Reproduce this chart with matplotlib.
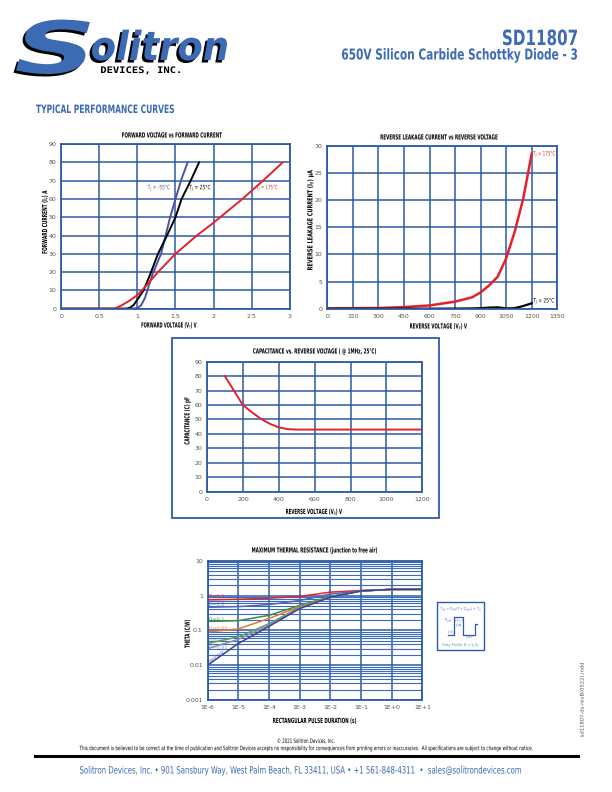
import numpy as np
import matplotlib.pyplot as plt
from matplotlib.patches import Rectangle, PathPatch
from matplotlib.textpath import TextPath
from matplotlib.font_manager import FontProperties
from matplotlib.transforms import Affine2D

BLUE = '#3c6ab3'
GRID = '#2d5ba8'
RED = '#e3212b'
SLATE = '#4b52a6'
GRAY = '#555555'

# forward voltage vs forward current
vf_m55 = [0, 0.9, 1.0, 1.05, 1.1, 1.13, 1.2, 1.31, 1.43, 1.5, 1.58, 1.66]
if_m55 = [0, 0, 0.3, 2, 6, 10, 19, 30, 50, 60, 71, 80]
vf_25 = [0, 0.85, 0.9, 0.95, 1.0, 1.08, 1.17, 1.27, 1.4, 1.5, 1.58, 1.7, 1.81]
if_25 = [0, 0, 0.5, 2, 5, 10, 19, 30, 41, 50, 60, 70, 80]
vf_175 = [0, 0.7, 0.8, 0.9, 1.0, 1.06, 1.27, 1.5, 1.78, 2.0, 2.38, 2.65, 2.91]
if_175 = [0, 0, 2, 4.5, 7.5, 10, 20, 30, 40, 47, 60, 70, 80]

# reverse leakage
vr = [0, 150, 300, 450, 600, 750, 850, 900, 950, 1000, 1050, 1100, 1150, 1200]
ir_175 = [0.05, 0.08, 0.12, 0.3, 0.6, 1.3, 2.1, 3.0, 4.3, 5.9, 9.3, 14.2, 20.3, 28.6]
ir_25 = [0, 0, 0, 0, 0, 0.02, 0.05, 0.1, 0.2, 0.25, 0.05, 0.1, 0.5, 1.0]

# capacitance
vc = [100, 130, 150, 200, 250, 300, 350, 400, 450, 500, 600, 800, 1000, 1200]
cap = [80, 74, 70, 60, 55, 50.5, 47, 44.5, 43.3, 43, 43, 43, 43, 43]

# thermal resistance
tp = [1e-6, 1e-5, 1e-4, 1e-3, 1e-2, 1e-1, 1e0, 1e1]
z_d05 = [0.75, 0.78, 0.84, 0.94, 1.25, 1.4, 1.5, 1.5]
z_d02 = [0.46, 0.48, 0.55, 0.72, 1.1, 1.38, 1.5, 1.5]
z_d01 = [0.18, 0.19, 0.27, 0.52, 0.94, 1.35, 1.5, 1.5]
z_d005 = [0.09, 0.11, 0.22, 0.48, 0.92, 1.35, 1.5, 1.5]
z_d002 = [0.042, 0.065, 0.155, 0.46, 0.9, 1.35, 1.5, 1.5]
z_d001 = [0.03, 0.055, 0.14, 0.44, 0.9, 1.35, 1.5, 1.5]
z_single = [0.01, 0.042, 0.13, 0.42, 0.9, 1.35, 1.5, 1.5]

W, H = 612, 792
DPI = 100
fig = plt.figure(figsize=(6.12, 7.92), dpi=DPI)


def px_axes(x0, y0, x1, y1):
    return fig.add_axes([x0 / W, 1 - y1 / H, (x1 - x0) / W, (y1 - y0) / H])


def ctext(x, y, s, size, width=None, sx=0.8, ha='left', va='baseline', rot=0, color='black',
          weight='bold', family='DejaVu Sans', fstyle='normal', z=5):
    # condensed text drawn as a path, placed in pixels from the top-left corner
    fp = FontProperties(family=family, weight=weight, style=fstyle)
    path = TextPath((0, 0), s, size=size, prop=fp)
    bb = path.get_extents()
    if width is not None:
        sx = width / bb.width
    dx = {'left': -bb.x0, 'center': -(bb.x0 + bb.x1) / 2, 'right': -bb.x1}[ha]
    dy = {'baseline': 0, 'center': -(bb.y0 + bb.y1) / 2, 'top': -bb.y1, 'bottom': -bb.y0}[va]
    tr = (Affine2D().translate(dx, dy).scale(sx, 1).rotate_deg(rot).translate(x, H - y)
          .scale(1 / DPI) + fig.dpi_scale_trans)
    fig.add_artist(PathPatch(path, transform=tr, facecolor=color, lw=0, zorder=z))


def dtext(ax, xd, yd, s, size, **kw):
    xp, yp = ax.transData.transform((xd, yd))
    ctext(xp, H - yp, s, size, **kw)


def style(ax):
    ax.grid(True, color=GRID, lw=1.1)
    for sp in ax.spines.values():
        sp.set_color(GRID)
        sp.set_linewidth(1.3)
    ax.tick_params(length=0, labelsize=4.5, labelcolor=GRAY, pad=3.5)
    ax.set_axisbelow(True)


# header / logo
for off, col in [((-2.5, 2.5), 'black'), ((0, 0), BLUE)]:
    ctext(16 + off[0], 73 + off[1], 'S', 72, width=74, color=col, fstyle='italic', z=4)
    ctext(92 + off[0], 60 + off[1], 'olitron', 40, width=135, color=col, fstyle='italic', z=4)
ctext(101, 73, 'DEVICES, INC.', 9, width=79, family='DejaVu Sans Mono')
ctext(577, 45, 'SD11807', 21, width=74, ha='right', color=BLUE)
ctext(577, 59.5, '650V Silicon Carbide Schottky Diode - 3', 15, width=235, ha='right', color=BLUE)
ctext(36, 113, 'TYPICAL PERFORMANCE CURVES', 11.5, width=138, color=BLUE)

# chart 1
ax1 = px_axes(61.3, 144, 289.7, 308.7)
ax1.plot(vf_m55, if_m55, color=SLATE, lw=1.4)
ax1.plot(vf_25, if_25, color='black', lw=1.4)
ax1.plot(vf_175, if_175, color=RED, lw=1.4)
ax1.set_xlim(0, 3)
ax1.set_ylim(0, 90)
ax1.set_xticks([0, 0.5, 1, 1.5, 2, 2.5, 3])
ax1.set_xticklabels(['0', '0.5', '1', '1.5', '2', '2.5', '3'])
ax1.set_yticks(range(0, 91, 10))
style(ax1)
ctext(172, 137.5, 'FORWARD VOLTAGE vs FORWARD CURRENT', 7, width=100, ha='center')
ctext(169, 327.5, 'FORWARD VOLTAGE (V$_F$) V', 7, width=55, ha='center')
ctext(45, 222, 'FORWARD CURRENT (I$_F$) A', 7, width=63, ha='center', va='center', rot=90)
dtext(ax1, 1.28, 66, 'T$_J$ = -55°C', 6, width=22, ha='center', va='center', color=SLATE, weight='normal')
dtext(ax1, 1.82, 66, 'T$_J$ = 25°C', 6, width=21, ha='center', va='center', weight='normal')
dtext(ax1, 2.7, 66, 'T$_J$ = 175°C', 6, width=21, ha='center', va='center', color=RED, weight='normal')

# chart 2
ax2 = px_axes(327.3, 146, 557.3, 308.7)
ax2.plot(vr, ir_175, color=RED, lw=1.8)
ax2.plot(vr, ir_25, color='black', lw=1.6)
ax2.set_xlim(0, 1350)
ax2.set_ylim(0, 30)
ax2.set_xticks(range(0, 1351, 150))
ax2.set_yticks(range(0, 31, 5))
style(ax2)
ctext(439, 139.5, 'REVERSE LEAKAGE CURRENT vs REVERSE VOLTAGE', 7, width=117, ha='center')
ctext(438.5, 328.5, 'REVERSE VOLTAGE (V$_R$) V', 7, width=57, ha='center')
ctext(310.5, 220, 'REVERSE LEAKAGE CURRENT (I$_R$) µA', 7, width=100, ha='center', va='center', rot=90)
dtext(ax2, 1208, 28.5, 'T$_J$ = 175°C', 6, width=22, va='center', color=RED, weight='normal')
dtext(ax2, 1208, 1.4, 'T$_J$ = 25°C', 6, width=21, va='center', weight='normal')

# chart 3
fig.patches.append(Rectangle((171.7 / W, 1 - 518 / H), (438.7 - 171.7) / W, (518 - 337.7) / H,
                             transform=fig.transFigure, fill=False, edgecolor=GRID, lw=1.3))
ax3 = px_axes(207, 361.7, 422.3, 491.7)
ax3.plot(vc, cap, color=RED, lw=1.4)
ax3.set_xlim(0, 1200)
ax3.set_ylim(0, 90)
ax3.set_xticks(range(0, 1201, 200))
ax3.set_yticks(range(0, 91, 10))
style(ax3)
ctext(314.5, 353.5, 'CAPACITANCE vs. REVERSE VOLTAGE ( @ 1MHz, 25°C)', 7, width=123, ha='center')
ctext(314, 514, 'REVERSE VOLTAGE (V$_R$) V', 7, width=56, ha='center')
ctext(187.5, 421, 'CAPACITANCE (C) pF', 7, width=47, ha='center', va='center', rot=90)

# chart 4
ax4 = px_axes(207.7, 560.7, 422.3, 700)
ax4.set_xscale('log')
ax4.set_yscale('log')
ax4.set_xlim(1e-6, 1e1)
ax4.set_ylim(1e-3, 1e1)
curves = [(z_d05, RED, 'D=0.5', 596), (z_d02, '#5066b4', 'D=0.2', 604), (z_d01, '#3f8a45', 'D=0.1', 619),
          (z_d005, '#e07b39', 'D=0.05', 628), (z_d002, '#5ca05c', 'D=0.02', 640),
          (z_d001, '#8c8ca8', 'D=0.01', 647), (z_single, '#3a3f9a', 'SINGLE PULSE', None)]
for z, c, lab, ly in curves:
    ax4.plot(tp, z, color=c, lw=1.1)
    if ly is not None:
        ctext(209, ly, lab, 4, width=4.2 * len(lab) / 1.4, va='center', color=c, weight='normal')
ctext(216, 657, 'SINGLE PULSE', 4, width=18, ha='center', va='center', rot=35, color='#3a3f9a',
      weight='normal')
ax4.set_xticks(tp)
ax4.set_xticklabels(['1E-6', '1E-5', '1E-4', '1E-3', '1E-2', '1E-1', '1E+0', '1E+1'])
ax4.set_yticks([1e-3, 1e-2, 1e-1, 1, 10])
ax4.set_yticklabels(['0.001', '0.01', '0.1', '1', '10'])
ax4.set_yticks([m * 10.0 ** e for e in range(-3, 1) for m in range(2, 10)], minor=True)
ax4.set_xticks([], minor=True)
ax4.grid(True, which='minor', axis='y', color='#3a6cc0', lw=0.8)
style(ax4)
ax4.tick_params(which='minor', length=0)
ctext(314.5, 552.5, 'MAXIMUM THERMAL RESISTANCE (junction to free air)', 7, width=125, ha='center')
ctext(314.5, 723, 'RECTANGULAR PULSE DURATION (s)', 7, width=83, ha='center')
ctext(187.5, 634, 'THETA (C/W)', 7, width=28, ha='center', va='center', rot=90)

# duty factor box
LB = '#5b84c4'
fig.patches.append(Rectangle((437 / W, 1 - 650 / H), 47 / W, 48 / H, transform=fig.transFigure,
                             fill=False, edgecolor=GRID, lw=1.0))
ctext(460.5, 609, 'T$_{JM}$ = P$_{DM}$(P x Z$_{thJA}$) + T$_A$', 4, width=40, ha='center', va='center',
      color=LB, weight='normal')
ax5 = px_axes(441, 614, 480, 640)
ax5.plot([0, 1, 1, 2.4, 2.4, 4.3, 4.3, 4.6], [0, 0, 2, 2, 0, 0, 1.2, 1.2], color=GRID, lw=0.9)
ax5.set_xlim(-1, 5)
ax5.set_ylim(-0.6, 2.3)
ax5.axis('off')
ctext(448, 620, 'P$_{DM}$', 4, width=6, ha='center', va='center', color=LB, weight='normal')
ctext(455, 620.5, '|-t$_1$-|', 3.5, width=8, va='center', color=LB, weight='normal')
ctext(456, 625, 'ON', 3.5, width=5, va='center', color=LB, weight='normal')
ctext(448, 632, '|-t$_2$', 3.5, width=6, va='center', color=LB, weight='normal')
ctext(466, 637, 'OFF', 3.5, width=7, va='center', color=LB, weight='normal')
ctext(460.5, 645, 'Duty Factor D = t$_1$/t$_2$', 4, width=36, ha='center', va='center', color=LB,
      weight='normal')

# footer
ctext(306, 741, '© 2021 Solitron Devices, Inc.', 6, width=57, ha='center', va='center', weight='normal')
ctext(306, 748.5, 'This document is believed to be correct at the time of publication and Solitron Devices '
      'accepts no responsibility for consequences from printing errors or inaccuracies.  All specifications '
      'are subject to change without notice.', 6, width=453, ha='center', va='center', weight='normal')
fig.add_artist(plt.Line2D([35 / W, 578 / W], [1 - 755.5 / H, 1 - 755.5 / H], transform=fig.transFigure,
                          color='black', lw=2.2))
ctext(300.5, 773.5, 'Solitron Devices, Inc. • 901 Sansbury Way, West Palm Beach, FL 33411, USA • +1 561-848-4311'
      '  •  sales@solitrondevices.com', 10, width=441, ha='center', color=BLUE, weight='normal')
ctext(582, 700, 'sd11807-ds-revB(0522).indd', 5, width=74, ha='center', va='center', rot=90,
      color=GRAY, weight='normal')

fig.savefig('out.png', dpi=DPI)
